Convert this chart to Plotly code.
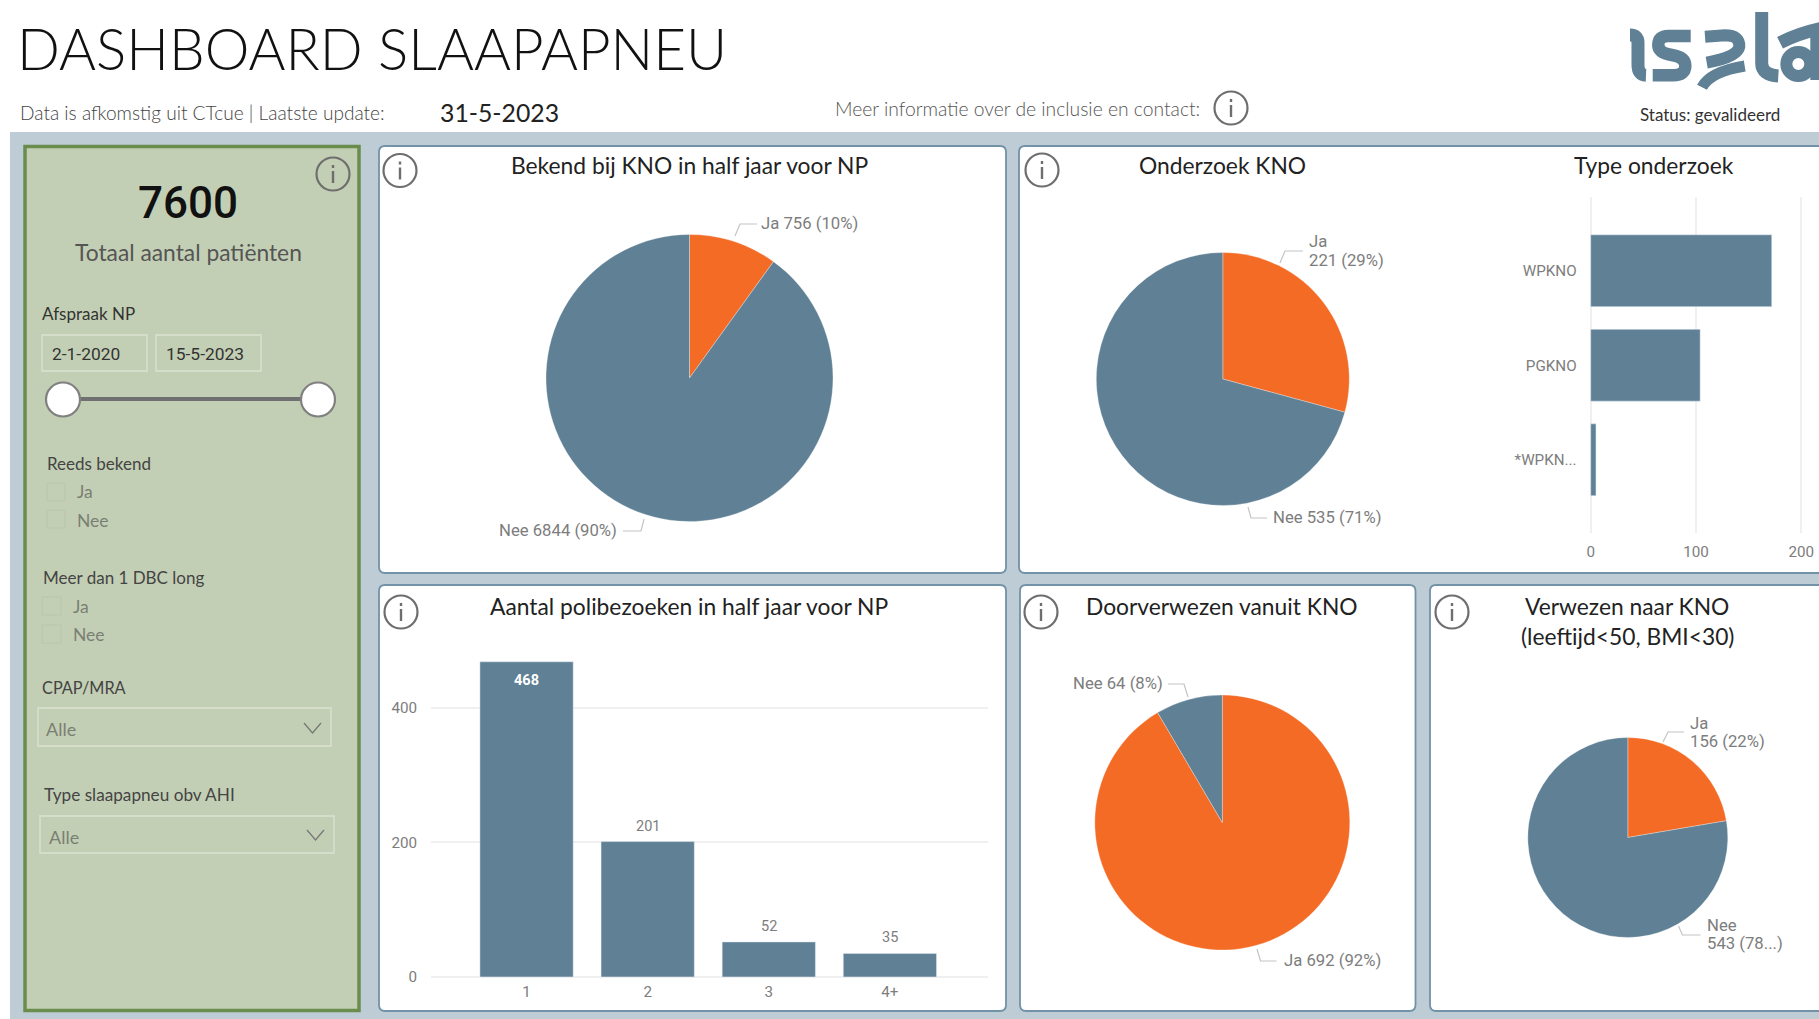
import re
import plotly.graph_objects as go

W, H = 1819, 1019

# ---------- data ----------
pie_labels = ["Ja", "Nee"]
known_values = [756, 6844]
exam_values = [221, 535]
referred_from_values = [692, 64]
referred_to_values = [156, 543]

visit_categories = ["1", "2", "3", "4+"]
visit_values = [468, 201, 52, 35]
visit_ticks = [0, 200, 400]

exam_types = ["WPKNO", "PGKNO", "*WPKN..."]
exam_type_values = [172, 104, 5]
exam_type_ticks = [0, 100, 200]

known_texts = ["Ja 756 (10%)", "Nee 6844 (90%)"]
exam_texts = ["Ja\n221 (29%)", "Nee 535 (71%)"]
referred_from_texts = ["Ja 692 (92%)", "Nee 64 (8%)"]
referred_to_texts = ["Ja\n156 (22%)", "Nee\n543 (78...)"]

total_patients = "7600"
update_date = "31-5-2023"
date_from = "2-1-2020"
date_to = "15-5-2023"

# ---------- style ----------
BLUE = "#5F8095"
ORANGE = "#F46B26"
BG = "#BECDD5"
EDGE = "#7292A8"
GREEN = "#C3CFB4"
GREEN_EDGE = "#6A8C4C"
UI = "Lato"
DIN = "Roboto"
CHART_TXT = "#7D7D7D"
LABEL = 16.7

px = lambda x: x / W
py = lambda y: 1 - y / H


def path(d):
    toks = re.findall(r"[A-Za-z]|-?\d+\.?\d*", d)
    out, isx = [], True
    for t in toks:
        if t.isalpha():
            out.append(t)
            isx = True
        else:
            v = float(t)
            out.append(f"{px(v):.5f}" if isx else f"{py(v):.5f}")
            isx = not isx
    return " ".join(out)


shapes, notes = [], []


def rect(x0, y0, x1, y1, fill="rgba(0,0,0,0)", line=None, lw=0, layer="below"):
    shapes.append(dict(type="rect", xref="paper", yref="paper", x0=px(x0), x1=px(x1),
                       y0=py(y0), y1=py(y1), fillcolor=fill, layer=layer,
                       line=dict(color=line or fill, width=lw)))


def rrect(x0, y0, x1, y1, r=6, fill="white", line=EDGE, lw=1.8):
    d = (f"M {x0+r} {y0} L {x1-r} {y0} Q {x1} {y0} {x1} {y0+r} L {x1} {y1-r} Q {x1} {y1} {x1-r} {y1} "
         f"L {x0+r} {y1} Q {x0} {y1} {x0} {y1-r} L {x0} {y0+r} Q {x0} {y0} {x0+r} {y0} Z")
    shapes.append(dict(type="path", xref="paper", yref="paper", path=path(d), fillcolor=fill,
                       layer="below", line=dict(color=line, width=lw)))


def stroke(d, color, lw, layer="above"):
    shapes.append(dict(type="path", xref="paper", yref="paper", path=path(d),
                       fillcolor="rgba(0,0,0,0)", layer=layer, line=dict(color=color, width=lw)))


def circle(cx, cy, r, fill, line, lw):
    shapes.append(dict(type="circle", xref="paper", yref="paper", x0=px(cx-r), x1=px(cx+r),
                       y0=py(cy+r), y1=py(cy-r), fillcolor=fill, layer="above",
                       line=dict(color=line, width=lw)))


def text(x, y, s, size, color="#333333", family=UI, anchor="left", weight=None):
    notes.append(dict(xref="paper", yref="paper", x=px(x), y=py(y), text=s, showarrow=False,
                      xanchor=anchor, yanchor="middle", borderpad=0, borderwidth=0,
                      font=dict(size=size, color=color, family=family,
                                **({"weight": weight} if weight else {}))))


def info(cx, cy, r=16.5):
    circle(cx, cy, r, "rgba(0,0,0,0)", "#6E6E6E", 2.2)
    stroke(f"M {cx} {cy-3} L {cx} {cy+9}", "#6E6E6E", 2.4)
    stroke(f"M {cx} {cy-9} L {cx} {cy-6}", "#6E6E6E", 2.4)


def multiline(x, y, s, size=LABEL, gap=18):
    for i, line in enumerate(s.split("\n")):
        text(x, y + i * gap, line, size, CHART_TXT, DIN)


# ---------- page background and panels ----------
rect(10, 132, W, H, BG)
rect(25, 146.5, 359, 1010.5, GREEN, GREEN_EDGE, 3.5)
rrect(379, 146, 1006, 573)
rrect(1019, 146, W + 12, 573)
rrect(379, 585, 1006, 1011)
rrect(1020, 585, 1415.5, 1011)
rrect(1430, 585, W + 12, 1011)

# ---------- header ----------
text(17, 48, "DASHBOARD SLAAPAPNEU", 56.5, "#111111", UI, weight=300)
text(20, 112, "Data is afkomstig uit CTcue | Laatste update:", 19.1, "#444444", UI, weight=300)
text(440, 113, update_date, 24.8, "#222222", UI)
text(835, 109, "Meer informatie over de inclusie en contact:", 19.3, "#555555", UI, weight=300)
info(1231, 108)
text(1640, 115, "Status: gevalideerd", 17, "#333333", UI)

# logo (strokes in a 3x local grid)
lg = lambda zx, zy: f"{1610+zx/3:.1f} {zy/3:.1f}"
stroke(f"M {lg(60,105)} Q {lg(84,105)} {lg(84,128)} L {lg(84,195)} Q {lg(84,225)} {lg(108,226)}", BLUE, 13)
stroke(f"M {lg(242,108)} L {lg(175,108)} Q {lg(145,108)} {lg(145,135)} Q {lg(145,158)} {lg(185,165)} "
       f"Q {lg(226,172)} {lg(226,197)} Q {lg(226,226)} {lg(190,226)} L {lg(128,226)}", BLUE, 12.5)
stroke(f"M {lg(285,110)} L {lg(345,106)} Q {lg(390,106)} {lg(388,140)} Q {lg(383,172)} {lg(290,188)}", BLUE, 12)
stroke(f"M {lg(404,198)} Q {lg(300,215)} {lg(276,262)}", BLUE, 11)
stroke(f"M {lg(455,36)} L {lg(455,190)} Q {lg(455,225)} {lg(505,228)}", BLUE, 13)
stroke(f"M {lg(510,128)} Q {lg(570,98)} {lg(640,84)}", BLUE, 13)
circle(1610 + 565/3, 192/3, 12, "rgba(0,0,0,0)", BLUE, 12)
stroke(f"M {lg(622,90)} L {lg(622,240)}", BLUE, 14)

# ---------- filter panel ----------
info(333, 174)
text(188, 203, total_patients, 44, "#111111", DIN, "center", weight=500)
text(188, 252, "Totaal aantal patiënten", 22.8, "#555555", UI, "center")
text(42, 313, "Afspraak NP", 17, "#333333", UI)
rect(42, 335, 147, 371, "rgba(0,0,0,0)", "#D6DDCB", 1.8)
rect(156, 335, 261, 371, "rgba(0,0,0,0)", "#D6DDCB", 1.8)
text(52, 354, date_from, 17.4, "#333333", DIN)
text(166, 354, date_to, 17.4, "#333333", DIN)
stroke("M 63 399 L 318 399", "#707070", 4)
circle(63, 399.5, 17, "white", "#808080", 2.2)
circle(318, 399.5, 17, "white", "#808080", 2.2)

text(47, 463, "Reeds bekend", 17, "#444444", UI)
rect(47, 483, 65, 501, "rgba(0,0,0,0)", "#BAC6AB", 1)
text(77, 492, "Ja", 17.5, "#7A7F75", UI)
rect(47, 510, 65, 528, "rgba(0,0,0,0)", "#BAC6AB", 1)
text(77, 520, "Nee", 17.5, "#7A7F75", UI)

text(43, 577, "Meer dan 1 DBC long", 17, "#444444", UI)
rect(42, 597, 61, 615, "rgba(0,0,0,0)", "#BAC6AB", 1)
text(73, 606, "Ja", 17.5, "#7A7F75", UI)
rect(42, 625, 61, 643, "rgba(0,0,0,0)", "#BAC6AB", 1)
text(73, 634, "Nee", 17.5, "#7A7F75", UI)

text(42, 687, "CPAP/MRA", 16.3, "#444444", UI)
rect(38, 708, 331, 746, "rgba(0,0,0,0)", "#D6DDCB", 1.8)
text(46, 729, "Alle", 18, "#7A7F75", UI)
stroke("M 304 723 L 312.5 733 L 321 723", "#777777", 1.3)

text(44, 794, "Type slaapapneu obv AHI", 17.2, "#444444", UI)
rect(40, 816, 334, 853, "rgba(0,0,0,0)", "#D6DDCB", 1.8)
text(49, 837, "Alle", 18, "#7A7F75", UI)
stroke("M 307 830 L 315.5 840 L 324 830", "#777777", 1.3)

# ---------- panel titles and icons ----------
TS = 22.8
text(689, 164.5, "Bekend bij KNO in half jaar voor NP", TS, "#222222", UI, "center")
text(1222, 165, "Onderzoek KNO", TS, "#222222", UI, "center")
text(1654, 164.5, "Type onderzoek", TS, "#222222", UI, "center")
text(689, 605.5, "Aantal polibezoeken in half jaar voor NP", TS, "#222222", UI, "center")
text(1222, 605.5, "Doorverwezen vanuit KNO", TS, "#222222", UI, "center")
text(1627, 605.5, "Verwezen naar KNO", TS, "#222222", UI, "center")
text(1627, 636, "(leeftijd&lt;50, BMI&lt;30)", TS, "#222222", UI, "center")
for cx, cy in [(400, 170.5), (1042, 170), (401, 612), (1041, 612), (1452, 612)]:
    info(cx, cy)

# ---------- pies ----------
fig = go.Figure()


def pie(labels, values, cx, cy, r):
    fig.add_trace(go.Pie(labels=labels, values=values, sort=False, direction="clockwise", rotation=0,
                         textinfo="none", hoverinfo="label+value+percent", showlegend=False,
                         marker=dict(colors=[ORANGE, BLUE], line=dict(color="white", width=0.3)),
                         domain=dict(x=[px(cx-r), px(cx+r)], y=[py(cy+r), py(cy-r)])))


pie(pie_labels, known_values, 689.5, 378, 143.5)
pie(pie_labels, exam_values, 1222.8, 379, 126.5)
pie(pie_labels, referred_from_values, 1222.3, 822.5, 127.5)
pie(pie_labels, referred_to_values, 1627.8, 837.5, 100)

LEAD = "#C4C4C4"
multiline(761, 223, known_texts[0])
stroke("M 735 236 L 740 224 L 757 224", LEAD, 1.2)
text(617, 530, known_texts[1], LABEL, CHART_TXT, DIN, "right")
stroke("M 623 531 L 641 531 L 644 519", LEAD, 1.2)

multiline(1308.7, 242, exam_texts[0])
stroke("M 1280 263 L 1285 251 L 1303 251", LEAD, 1.2)
multiline(1273, 517, exam_texts[1])
stroke("M 1248 507 L 1251 518 L 1267 518", LEAD, 1.2)

multiline(1283.5, 960, referred_from_texts[0])
stroke("M 1257 949 L 1260.5 961 L 1276.5 961", LEAD, 1.2)
text(1163, 683, referred_from_texts[1], LABEL, CHART_TXT, DIN, "right")
stroke("M 1168 684 L 1184 684 L 1188 697", LEAD, 1.2)

multiline(1690, 723, referred_to_texts[0])
stroke("M 1663 742 L 1668 732 L 1684 732", LEAD, 1.2)
multiline(1707, 925, referred_to_texts[1])
stroke("M 1678.5 926 L 1682.5 935 L 1700.5 935", LEAD, 1.2)

# ---------- bars ----------
fig.add_trace(go.Bar(x=visit_categories, y=visit_values, marker=dict(color=BLUE), width=0.77,
                     showlegend=False, xaxis="x", yaxis="y"))
fig.add_trace(go.Bar(x=exam_type_values, y=exam_types, orientation="h", marker=dict(color=BLUE),
                     width=0.76, showlegend=False, xaxis="x2", yaxis="y2"))

for i, v in enumerate(visit_values):
    inside = v > 300
    notes.append(dict(xref="x", yref="y", x=i, y=v, text=str(v), showarrow=False,
                      yshift=-18.5 if inside else 15.5, xanchor="center", yanchor="middle",
                      font=dict(size=14.5, family=DIN, color="white" if inside else CHART_TXT,
                                weight=700 if inside else 400)))

tick_font = dict(size=15.2, family=DIN, color=CHART_TXT)
GRID = "#F0F0F0"
fig.update_layout(
    width=W, height=H, margin=dict(l=0, r=0, t=0, b=0), paper_bgcolor="white",
    plot_bgcolor="rgba(0,0,0,0)", showlegend=False, shapes=shapes, annotations=notes,
    xaxis=dict(domain=[px(431), px(988)], type="category", range=[-0.789, 3.81], anchor="y",
               tickfont=tick_font, showgrid=False, showline=False, zeroline=False, ticks="",
               ticklabelstandoff=2, fixedrange=True, automargin=False),
    yaxis=dict(domain=[py(978.3), py(650)], range=[-2, 485.5], tickvals=visit_ticks, anchor="x",
               tickfont=tick_font, showgrid=True, gridcolor=GRID, gridwidth=2, zeroline=False,
               showline=False, ticks="", ticklabelstandoff=13, fixedrange=True, automargin=False),
    xaxis2=dict(domain=[px(1588.6), 1], range=[-2, 216.9], tickvals=exam_type_ticks, anchor="y2",
                tickfont=tick_font, showgrid=True, gridcolor=GRID, gridwidth=2, zeroline=False,
                showline=False, ticks="", ticklabelstandoff=8, fixedrange=True, automargin=False),
    yaxis2=dict(domain=[py(533), py(197)], type="category", range=[2.775, -0.78], anchor="x2",
                tickfont=tick_font, showgrid=False, zeroline=False, showline=False, ticks="",
                ticklabelstandoff=11, fixedrange=True, automargin=False),
)

fig.write_html("out.html", config={"displayModeBar": False},
               post_script="document.body.style.margin='0';document.documentElement.style.overflow='hidden';")
